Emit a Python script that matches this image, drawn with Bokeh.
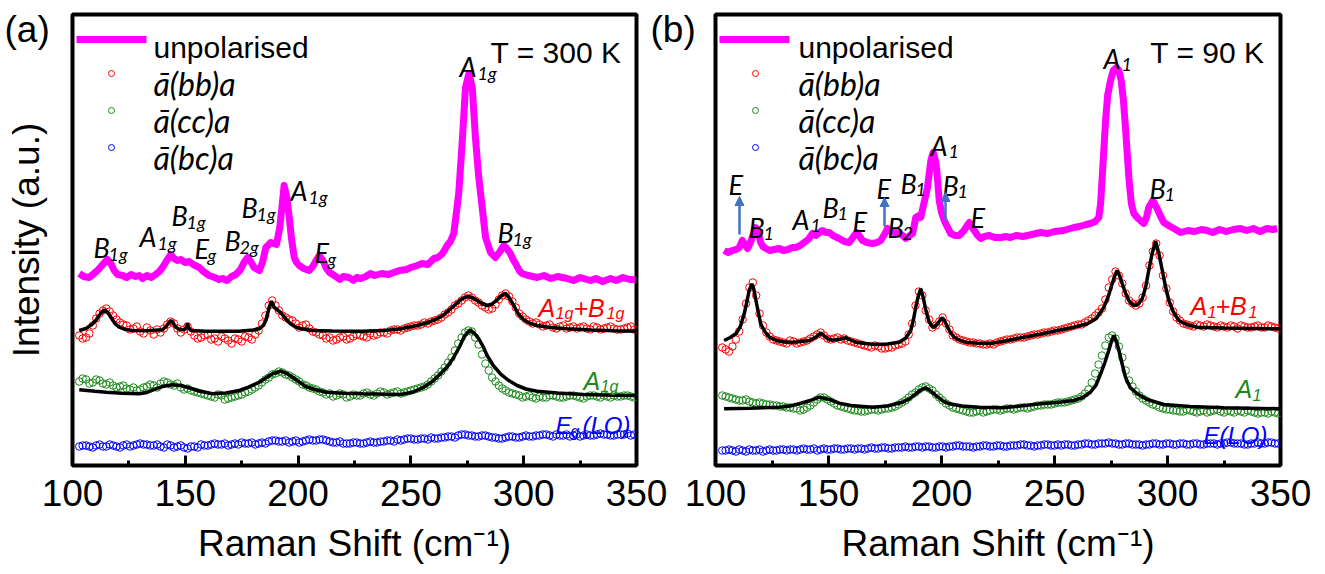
import numpy as np
from bokeh.plotting import figure
from bokeh.models import Range1d, Label, Arrow, NormalHead, FixedTicker
from bokeh.layouts import row
from bokeh.embed import file_html
from bokeh.resources import INLINE

# ---------------- sampling grids of the polarised spectra (cm-1) ----------------
grid = list(range(103, 350, 3))
grid2 = [g + 1.5 for g in range(103, 347, 3)]

# ---------------- data: panel (a), T = 300 K ----------------
a_unpol = [(103.0,192),(105,189),(107.4,188),(109,191),(111.1,195),(113,200),(115.5,206),(117,202),(118.5,195),(120,191),
           (122.2,190),(124,188),(126,191),(128,189),(129.6,190),(131,187),(133,190),(135,188),(136.8,191),(138.5,194),
           (139.9,198),(141.5,204),(143.6,211),(145,207),(146.5,205),(148,206),(150,203),(151.7,204),(153.5,201),(156.2,198),
           (158,194),(160.6,190),(163,188),(165,186),(166.5,187),(168.5,185),(170.5,189),(172.4,191),(174.5,196),(176,203),
           (177.6,208),(179,204),(180.5,198),(182.8,195),(184.2,203),(185.7,218),(187.9,223),(189,222),(190.4,221),(191.9,238),
           (193,262),(193.8,280),(195,268),(196.1,248),(197,228),(198.3,208),(199.3,203),(200.5,200),(202.5,197),(204.9,195),
           (206.5,199),(208,205),(209.4,210),(211,205),(212.3,198),(214,193),(216.7,189),(218.5,186),(220,189),(222.6,188),
           (224.5,185),(226,188),(227.8,187),(230,189),(232.1,192),(234,190),(237,192),(240,191),(242.4,193),(245,195),
           (248,196),(250,198),(252.8,200),(255,202),(257.5,201),(260.2,207),(262,208),(264,212),(266.1,220),(267.5,224),
           (269.0,232),(270,250),(271.2,272),(272.7,322),(274.2,378),(275.7,392),(277.2,378),(278.6,328),(280,290),(280.9,272),
           (283.1,228),(285.3,213),(287.5,208),(289.5,214),(291.2,220),(292.5,217),(294.1,212),(295.3,206),(296.4,202),(298,195),
           (299.3,192),(302,190),(306.0,188),(309,190),(312,187),(315,189),(319.3,187),(322,185),(325,188),(329.6,185),
           (332,187),(335,184),(338.5,187),(341,185),(344,188),(347,186),(349.6,186)]
a_unpol_x = [v[0] for v in a_unpol]
a_unpol_y = [v[1] for v in a_unpol]

a_bb = [130,128,140,152,157,150,143,140,137,134,
        138,131,133,141,142,133,139,130,128,131,
        127,129,125,127,124,128,131,142,160,160,
        150,146,142,140,137,133,130,128,126,129,
        127,131,129,132,131,133,135,136,137,139,
        140,143,144,146,151,156,162,168,168,163,
        158,157,166,172,164,152,146,142,141,140,
        138,139,137,139,138,137,139,136,138,137,
        136,138,136]
a_bb2 = [127,132,147,155,154,146,141,136,139,132,
         135,136,137,144,137,136,134,127,130,126,
         124,127,122,126,129,126,135,150,165,155,
         148,145,138,141,134,131,127,125,128,126,
         129,130,128,130,133,132,136,135,138,140,
         141,142,145,148,153,160,165,170,165,160,
         156,161,170,169,158,149,144,143,139,141,
         137,140,138,137,139,136,138,137,139,136,
         137,139]
a_cc = [84,86,83,85,81,80,79,77,78,76,
        79,80,82,83,80,78,77,74,72,70,
        68,70,67,69,71,74,78,83,88,92,
        93,90,86,81,78,76,73,72,70,71,
        69,70,72,71,72,73,72,74,73,75,
        77,79,84,90,98,108,122,133,134,121,
        102,88,80,75,72,70,69,68,69,68,
        70,68,69,70,68,69,70,68,69,70,
        69,70,68]
a_cc2 = [87,82,86,82,83,78,80,76,75,78,
         81,78,84,81,82,76,75,73,71,69,
         71,66,68,70,73,76,80,86,91,94,
         91,88,84,80,77,74,71,69,72,68,
         71,70,73,70,74,71,73,72,74,76,
         78,81,87,94,103,115,128,135,128,111,
         95,84,77,73,71,68,70,67,68,70,
         69,68,70,69,67,70,69,70,68,69,
         70,69]
a_bc = [19,20,18,21,19,20,18,21,20,22,
        21,20,19,21,18,20,17,19,21,20,
        22,21,20,22,23,22,21,23,24,25,
        24,23,25,24,26,25,26,24,23,22,
        22,23,22,24,23,24,25,26,26,27,
        26,27,28,27,28,29,30,31,30,29,
        30,28,27,28,29,28,30,29,30,31,
        29,30,31,30,29,31,30,32,31,30,
        31,32,31]
a_bc2 = [20,19,20,19,21,19,20,19,21,21,
         20,21,18,20,19,18,19,18,20,21,
         21,22,21,21,22,23,22,22,25,24,
         25,24,23,25,25,26,25,23,24,22,
         23,22,23,23,24,25,24,25,27,26,
         27,26,27,28,29,28,31,30,29,30,
         29,28,27,29,28,29,29,30,31,30,
         31,30,29,31,30,30,31,31,30,31,
         31,30]

a_bb_fit = [(103,135),(106,137),(108.9,141.7),(110.5,145.5),(111.8,150),(113,153.5),(114.3,155.7),(115.5,153.5),(117,148.3),
            (118.8,142),(120.7,138.3),(123.5,136),(126.6,135),(133,134.7),(139.9,135.7),(141.5,139),(142.8,143),(143.6,145),
            (144.5,143),(145.8,138.3),(147.5,136),(149.5,135.7),(150.5,138),(151,142.3),(151.5,138),(152.5,135),(159.1,134.3),
            (173.9,134.3),(180,135.5),(182.8,136.7),(184.5,140),(185.7,145),(187.2,158.3),(188.2,164.3),(189.4,158.3),
            (190.5,156),(191.6,154.3),(193,151),(194.5,146.7),(196.5,142),(199,138.3),(202,136.5),(206.4,135),(215,134.4),
            (228.5,134.3),(238,135),(245,136.5),(252.8,140),(257.5,143),(261.7,146.7),(264.5,150.5),(267.6,156.7),(270,161.5),
            (272,165.7),(274,168.3),(275.7,169),(277.5,167.5),(279.4,165),(281.5,162),(283.8,160),(286,161.5),(288.3,165.7),
            (290.2,170),(291.9,172.3),(293.5,168),(295.6,160),(297.5,152),(300,145.7),(303,142),(306,140),(312,138),
            (319.3,136.7),(330,135.5),(340,134.8),(350,134.3)]
a_cc_fit = [(103,75.7),(110,74.2),(115,73.3),(122,72.3),(129.6,71.7),(133,73),(136.9,76.7),(140,79),(144.3,80.7),(148,80),
            (151.7,77.7),(156,74.5),(162.1,71.7),(168,72.5),(173.9,75),(178,78.3),(182.8,83.3),(186,88),(188.7,91.7),
            (192.3,94.3),(195,92),(197.5,88.3),(200.5,83.5),(203.4,79),(207.5,76),(212.3,73.3),(220,72.2),(228.5,71.7),
            (245.4,71),(251,73.5),(255.7,78.3),(259.5,84),(263.1,91.7),(266.2,99),(269,108.3),(271.5,118.5),(273.5,128.3),
            (275,133),(276.4,135),(278.2,132),(280.1,126.7),(282,119),(283.8,110),(286.5,100),(289.7,91.7),(293,85.5),
            (297.1,80),(301,76.5),(306,74.3),(315,72.5),(326.6,71),(340,70.3),(350,70)]

# ---------------- data: panel (b), T = 90 K ----------------
b_unpol = [(103.8,215),(105.5,213),(107.5,215),(109,216),(110.5,218),(111.9,225),(113,221),(114.2,217),(115.3,222),(116.4,229),
           (117.8,238),(119,232),(120,223),(121,219),(122.3,217),(124,215),(126,216),(128.2,217),(130,215),(132,216),
           (134,218),(135.5,218),(137.5,220),(139.2,223),(141,226),(142.9,232),(144.4,230),(146,233),(147.3,235),(148.8,233),
           (150.3,233),(152,230),(154.7,227),(157,224),(159.2,223),(160.8,228),(162.4,233),(163.8,229),(165,225),(167,223),
           (169.5,222),(171.5,223),(173.1,225),(175,232),(176.1,237),(177.5,234),(179.1,233),(181.3,232),(182.8,230),(184.2,227),
           (186,230),(187.2,232),(188.1,242),(188.6,248),(190,250),(190.8,248),(192.2,262),(193.8,278),(195.3,305),(196.3,313),
           (197.2,306),(197.8,298),(199.0,265),(200,253),(201.2,245),(202.7,238),(204.1,232),(206,230),(207.8,230),(210.0,235),
           (211.3,240),(212.3,243),(213.3,239),(214.5,235),(216,230),(217.4,227),(219,229),(221.1,230),(223.5,228),(226.2,228),
           (228.5,229),(230.5,228),(233,230),(236,229),(240,231),(243.8,233),(247,232),(250,234),(254,235),(258.5,238),
           (261,239),(264,241),(265.9,242),(268,244),(269.6,248),(270.4,262),(271.1,288),(272.6,345),(273.5,370),(274.8,385),
           (276,395),(277.4,398),(278.5,395),(279.5,385),(280.5,365),(281.4,338),(282.9,288),(284,262),(285.1,252),(287,247),
           (289.5,242),(290.7,248),(291.7,258),(293.5,265),(295.4,257),(297,249),(298.4,243),(300.5,240),(302.8,237),(305.8,233),
           (309,235),(312,234),(315,236),(317.6,235),(320,233),(323,236),(326,234),(329,236),(332.3,237),(335,235),
           (338,237),(341,234),(344,237),(346.5,236),(348.5,237)]
b_unpol_x = [v[0] for v in b_unpol]
b_unpol_y = [v[1] for v in b_unpol]

b_bb = [118,114,126,146,178,170,140,129,125,123,
        125,122,124,127,131,130,126,128,127,124,
        122,120,118,119,117,118,121,124,142,174,
        155,138,144,142,130,126,124,123,122,121,
        121,124,126,127,128,129,131,132,133,135,
        136,138,140,141,145,150,157,178,194,182,
        165,160,168,200,222,190,163,148,142,140,
        141,139,140,138,139,140,137,139,138,140,
        138,139,137]
b_bb2 = [116,119,134,162,183,152,133,126,124,122,
         124,123,125,129,133,127,127,126,125,123,
         121,119,120,117,118,120,122,131,160,170,
         146,140,148,136,128,125,123,122,121,122,
         123,125,126,128,128,130,131,133,134,135,
         137,139,141,143,147,153,166,186,190,172,
         162,162,180,214,210,177,154,145,141,139,
         140,141,139,140,138,139,140,138,139,138,
         140,138]
b_cc = [70,68,66,65,64,62,62,61,60,59,
        58,57,56,60,66,68,64,60,58,56,
        55,54,56,55,57,58,61,65,71,76,
        79,75,68,62,58,56,54,53,55,54,
        56,55,57,56,58,57,59,60,61,62,
        63,64,66,69,76,92,110,128,127,108,
        85,74,67,63,60,57,56,55,54,55,
        53,55,54,56,53,54,55,53,54,52,
        53,54,52]
b_cc2 = [69,67,65,66,63,63,61,60,59,58,
         57,55,58,63,68,66,62,59,57,55,
         54,55,56,56,57,59,63,68,73,78,
         77,71,65,60,57,55,53,54,53,55,
         56,56,57,57,58,58,60,61,61,63,
         63,65,67,72,83,101,120,130,119,95,
         79,70,65,61,58,56,55,54,56,54,
         54,53,55,54,55,53,54,55,53,53,
         52,53]
b_bc = [15,16,14,15,16,15,14,16,15,16,
        16,15,17,16,15,17,16,17,16,17,
        17,16,18,17,18,17,18,19,18,19,
        19,18,19,18,19,20,19,18,19,20,
        19,20,19,20,21,20,19,20,21,20,
        20,21,20,21,22,21,22,23,22,21,
        22,21,20,21,22,21,22,21,22,21,
        22,21,22,21,22,23,22,21,22,23,
        22,23,22]
b_bc2 = [15,15,16,14,15,16,15,15,16,15,
         16,16,16,17,16,16,17,16,17,16,
         17,17,17,18,17,18,18,18,19,18,
         19,18,19,19,20,19,19,19,20,19,
         20,19,20,20,21,20,20,21,20,21,
         21,20,21,22,21,22,22,22,21,22,
         21,21,21,22,21,22,21,22,21,22,
         21,22,22,22,23,22,22,21,22,22,
         23,22]

b_bb_fit = [(103.8,125),(106.5,128),(109,131.7),(111,139),(112.7,151.7),(114,165),(114.9,175),(116.1,181.7),(116.9,177),
            (117.6,168.3),(118.8,155),(120,141.7),(121.8,134),(123.8,128.3),(127,125),(131.1,123.3),(136,123.5),(141.5,125),
            (144.4,128.3),(146.6,132.3),(148.2,129.5),(149.6,126.7),(151.5,125.5),(153.2,125.7),(155.5,126.5),(157.7,127.7),
            (159.8,125.5),(162.1,123.3),(166,122),(171,121),(176,121.5),(181.3,123.3),(184.2,127.5),(186.4,135),(187.6,146),
            (188.6,158.3),(189.8,170),(190.8,176.7),(191.9,168),(193.1,155),(194.5,144),(196,138.3),(197.1,139),(198.2,141.7),
            (199.3,145),(200.4,147.7),(201.5,144),(202.7,138.3),(204,133),(205.6,128.3),(208,125.3),(210.8,123.3),(216,122.3),
            (221.7,122),(228,124.5),(236.4,128.3),(244,131.5),(251.2,135),(258,138),(264.5,141.7),(268.5,147),(271.8,158.3),
            (273.8,169),(275.5,181.7),(276.7,190),(277.7,195),(278.8,190),(280,181.7),(281.5,172),(282.9,165),(284.3,161),
            (285.8,160),(287.3,162),(288.8,166.7),(290.3,178),(291.7,195),(293.2,212),(294.7,224.3),(296.2,212),(297.7,195),
            (299.2,178),(300.6,165),(302.5,154),(305,145),(308.5,141),(313.1,138.3),(325,137.5),(350,136.7)]
b_cc_fit = [(103.8,56.7),(115,57.3),(128.2,58.3),(133,59.5),(137,61.7),(141.5,64.7),(145.9,68.3),(150.5,66),(154.7,62.3),
            (160,60),(169.5,58.3),(176,59.5),(182.7,63.3),(186,67),(188.6,71.7),(190.8,75.5),(192.8,77.7),(195,75),(197.5,70),
            (200.3,65),(203.4,61.7),(209,59.5),(216.7,58.3),(227,57.7),(235,59.5),(243.8,61.7),(251,63),(258.5,65),(262.5,68),
            (265.9,73.3),(268.3,80),(270.4,91.7),(272.3,103),(274,115),(275.2,124),(276.3,130),(277.4,124),(278.5,115),
            (280,101),(281.4,88.3),(283.5,78),(286.6,71.7),(291,66),(298.4,61),(310,59),(325,57.8),(350,56.7)]

x_ticks = [100, 150, 200, 250, 300, 350]
x_minor = [125, 175, 225, 275, 325]

MAG, RED, GRN, BLU, ARW = "#ff00ff", "#ff0000", "#1a8a1a", "#0000ff", "#4472c4"
SANS = "Liberation Sans"
PK = "Lato"

FR_TOP, FR_BOT = 14, 465
SUB_DX = {"A": 18, "B": 15, "E": 13}


def make_fig(width, left, right, ylabel):
    p = figure(width=width, height=574, x_range=Range1d(100, 350), y_range=Range1d(0, FR_BOT - FR_TOP),
               output_backend="svg", toolbar_location=None,
               min_border_left=left, min_border_right=right, min_border_top=FR_TOP, min_border_bottom=574 - FR_BOT)
    p.grid.visible = False
    p.border_fill_color = None
    p.outline_line_color = "black"
    p.outline_line_width = 4
    p.xaxis.ticker = FixedTicker(ticks=x_ticks, minor_ticks=x_minor)
    p.xaxis.axis_line_color = None
    p.xaxis.major_tick_in = 10
    p.xaxis.major_tick_out = 0
    p.xaxis.minor_tick_in = 5
    p.xaxis.minor_tick_out = 0
    p.xaxis.major_tick_line_width = 3
    p.xaxis.minor_tick_line_width = 3
    p.xaxis.major_label_text_font = SANS
    p.xaxis.major_label_text_font_size = "37px"
    p.xaxis.major_label_text_color = "black"
    p.xaxis.major_label_standoff = 14
    p.xaxis.axis_label = "Raman Shift (cm\u207b\u00b9)"
    p.xaxis.axis_label_text_font = SANS
    p.xaxis.axis_label_text_font_size = "37px"
    p.xaxis.axis_label_text_font_style = "normal"
    p.xaxis.axis_label_text_color = "black"
    p.xaxis.axis_label_standoff = 14
    if ylabel:
        p.yaxis.ticker = FixedTicker(ticks=[])
        p.yaxis.axis_line_color = None
        p.yaxis.major_tick_line_color = None
        p.yaxis.minor_tick_line_color = None
        p.yaxis.axis_label = ylabel
        p.yaxis.axis_label_text_font = SANS
        p.yaxis.axis_label_text_font_size = "37px"
        p.yaxis.axis_label_text_font_style = "normal"
        p.yaxis.axis_label_text_color = "black"
        p.yaxis.axis_label_standoff = 26
    else:
        p.yaxis.visible = False
    return p


def draw(p, ux, uy, bb, bb2, cc, cc2, bc, bc2, bbfit, ccfit):
    for xs, ys, col in [(grid, bc, BLU), (grid2, bc2, BLU), (grid, cc, GRN), (grid2, cc2, GRN),
                        (grid, bb, RED), (grid2, bb2, RED)]:
        p.scatter(xs, ys, marker="circle", size=7.5, fill_color=None, line_color=col, line_width=1)
    p.line([v[0] for v in ccfit], [v[1] for v in ccfit], line_color="black", line_width=3.5)
    p.line([v[0] for v in bbfit], [v[1] for v in bbfit], line_color="black", line_width=3.5)
    p.line(ux, uy, line_color=MAG, line_width=7, line_join="round")


class Panel:
    def __init__(self, p, frame_left, frame_w):
        self.p = p
        self.fl = frame_left
        self.fw = frame_w

    def X(self, px):
        return 100 + (px - self.fl) * 250.0 / self.fw

    def Y(self, py):
        return FR_BOT - py

    def text(self, px, py, s, size, color="black", font=PK, style="italic", align="left"):
        self.p.add_layout(Label(x=self.X(px), y=self.Y(py), text=s, text_font=font, text_font_size=f"{size}px",
                                text_font_style=style, text_color=color, text_align=align,
                                text_baseline="alphabetic"))

    def peak(self, px, py, main, sub):
        self.text(px, py, main, 27)
        self.text(px + SUB_DX[main], py + 6, sub, 18)

    def legend(self, line_x0, line_x1, circ_x, text_x, temp, temp_right):
        p = self.p
        p.line([self.X(line_x0), self.X(line_x1)], [self.Y(39), self.Y(39)], line_color=MAG, line_width=7)
        self.text(text_x, 47, "unpolarised", 30, font=SANS, style="normal")
        for (cy, col, lab) in [(73, RED, "\u0101(bb)a"), (110, GRN, "\u0101(cc)a"), (147, BLU, "\u0101(bc)a")]:
            p.scatter([self.X(circ_x)], [self.Y(cy)], marker="circle", size=6, fill_color=None, line_color=col,
                      line_width=1)
            self.text(text_x, cy + 10, lab, 32, font=PK, style="italic")
        self.text(temp_right, 52, temp, 30, font=SANS, style="normal", align="right")

    def arrow(self, px, py0, py1):
        self.p.add_layout(Arrow(end=NormalHead(size=9, fill_color=ARW, line_color=ARW),
                                x_start=self.X(px), y_start=self.Y(py0), x_end=self.X(px), y_end=self.Y(py1),
                                line_color=ARW, line_width=2.5))


# ---------- background canvas holding the panel letters ----------
p0 = figure(width=1325, height=574, x_range=Range1d(0, 1325), y_range=Range1d(0, 574), output_backend="svg",
            toolbar_location=None, x_axis_type=None, y_axis_type=None, min_border=0)
p0.outline_line_color = None
p0.grid.visible = False
p0.add_layout(Label(x=4, y=574 - 45, text="(a)", text_font=SANS, text_font_size="37px", text_color="black"))
p0.add_layout(Label(x=650, y=574 - 45, text="(b)", text_font=SANS, text_font_size="37px", text_color="black"))

# ---------- panel (a) ----------
p1 = make_fig(700, 72, 64, "Intensity (a.u.)")
p1.margin = (0, 0, 0, -1325)
draw(p1, a_unpol_x, a_unpol_y, a_bb, a_bb2, a_cc, a_cc2, a_bc, a_bc2, a_bb_fit, a_cc_fit)
A = Panel(p1, 72, 564)
A.legend(76, 146, 111, 153, "T = 300 K", 621)
A.peak(93, 247, "B", "1g")
A.peak(139, 236, "A", "1g")
A.peak(171, 215, "B", "1g")
A.peak(194, 248, "E", "g")
A.peak(224, 240, "B", "2g")
A.peak(241, 207, "B", "1g")
A.peak(290, 190, "A", "1g")
A.peak(314, 252, "E", "g")
A.peak(459, 66, "A", "1g")
A.peak(497, 232, "B", "1g")
A.text(538, 307, "A", 25, color=RED, font=SANS)
A.text(555, 313, "1g", 16, color=RED, font=SANS)
A.text(573, 307, "+B", 25, color=RED, font=SANS)
A.text(606, 313, "1g", 16, color=RED, font=SANS)
A.text(583, 380, "A", 25, color=GRN, font=SANS)
A.text(600, 386, "1g", 16, color=GRN, font=SANS)
A.text(555, 425, "E", 24, color=BLU, font=SANS)
A.text(570, 431, "g", 16, color=BLU, font=SANS)
A.text(582, 425, "(LO)", 24, color=BLU, font=SANS)

# ---------- panel (b) ----------
p2 = make_fig(675, 65, 45, None)
p2.margin = (0, 0, 0, -50)
draw(p2, b_unpol_x, b_unpol_y, b_bb, b_bb2, b_cc, b_cc2, b_bc, b_bc2, b_bb_fit, b_cc_fit)
B = Panel(p2, 715, 565)
B.legend(719, 789, 755, 798, "T = 90 K", 1264)
B.text(728, 184, "E", 27)
B.arrow(739, 234, 196)
B.peak(748, 227, "B", "1")
B.peak(792, 219, "A", "1")
B.peak(822, 207, "B", "1")
B.text(852, 221, "E", 27)
B.text(876, 188, "E", 27)
B.arrow(884, 226, 197)
B.peak(887, 227, "B", "2")
B.peak(900, 183, "B", "1")
B.peak(930, 145, "A", "1")
B.peak(942, 185, "B", "1")
B.arrow(945, 220, 192)
B.text(970, 217, "E", 27)
B.peak(1103, 58, "A", "1")
B.peak(1149, 188, "B", "1")
B.text(1190, 305, "A", 25, color=RED, font=SANS)
B.text(1207, 311, "1", 16, color=RED, font=SANS)
B.text(1215, 305, "+B", 25, color=RED, font=SANS)
B.text(1248, 311, "1", 16, color=RED, font=SANS)
B.text(1235, 388, "A", 25, color=GRN, font=SANS)
B.text(1252, 394, "1", 16, color=GRN, font=SANS)
B.text(1203, 435, "E(LO)", 24, color=BLU, font=SANS)

layout = row(p0, p1, p2)
open("out.html", "w").write(file_html(layout, INLINE))
